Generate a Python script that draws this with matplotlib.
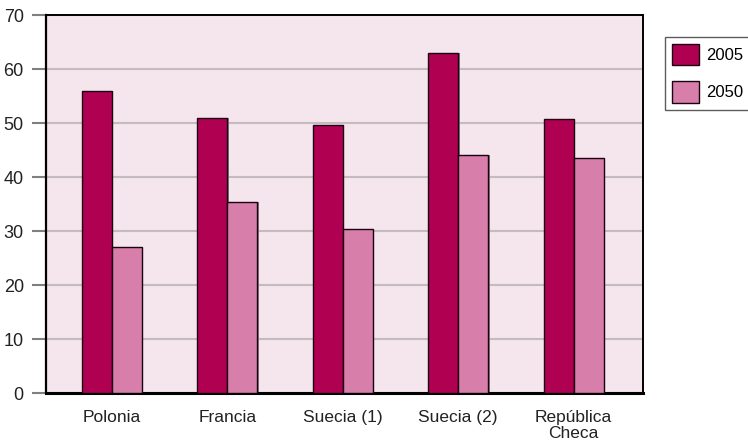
import matplotlib
matplotlib.use("Agg")
import matplotlib.pyplot as plt
import numpy as np
from matplotlib.patches import Patch

plt.rcParams['font.family'] = ['Liberation Sans', 'DejaVu Sans']

categories = ['Polonia', 'Francia', 'Suecia (1)', 'Suecia (2)', 'República\nCheca']
values_2005 = [55.9, 51.0, 49.6, 63.0, 50.7]
values_2050 = [27.0, 35.4, 30.4, 44.0, 43.6]
series_names = ['2005', '2050']
yticks = [0, 10, 20, 30, 40, 50, 60, 70]

c2005 = '#B00052'
c2050 = '#D77EAA'
bg = '#F5E5ED'

fig = plt.figure(figsize=(7.48, 4.46), dpi=100)
ax = fig.add_axes([0.0615, 0.1188, 0.798, 0.8475])
ax.set_facecolor(bg)

x = np.arange(len(categories))
w = 0.26
for vals, off, col in [(values_2005, -w / 2, c2005), (values_2050, w / 2, c2050)]:
    # thin gray shadow behind each bar
    ax.bar(x + off + 0.012, vals, w, color='#8a7f84', zorder=2, linewidth=0)
    ax.bar(x + off, vals, w, color=col, edgecolor='#1a0010', linewidth=1.0, zorder=3)

ax.set_xlim(-0.57, 4.6)
ax.set_ylim(0, 70)
ax.set_yticks(yticks)
ax.yaxis.grid(True, color='#c4bbbf', linewidth=1.5, zorder=1)
ax.set_axisbelow(True)

ax.set_xticks(x)
ax.set_xticklabels(categories, fontsize=12.5, color='#222222', linespacing=1.15)
ax.tick_params(axis='x', length=0, pad=12)
ax.tick_params(axis='y', length=10, width=1.5, color='#808080', labelsize=13,
               labelcolor='#222222', pad=6)

for s in ['top', 'right']:
    ax.spines[s].set_linewidth(1.4)
ax.spines['left'].set_linewidth(1.6)
ax.spines['bottom'].set_linewidth(2.2)

handles = [Patch(facecolor=c2005, edgecolor='#1a0010', linewidth=1.0),
           Patch(facecolor=c2050, edgecolor='#1a0010', linewidth=1.0)]
leg = fig.legend(handles, series_names, loc='upper left', bbox_to_anchor=(0.889, 0.918),
                 fontsize=12, frameon=True, fancybox=False, handlelength=1.6,
                 handleheight=1.6, handletextpad=0.4, labelspacing=0.95,
                 borderpad=0.45, borderaxespad=0)
leg.get_frame().set_edgecolor('#333333')
leg.get_frame().set_linewidth(1.0)

fig.savefig('out.png', dpi=100)
